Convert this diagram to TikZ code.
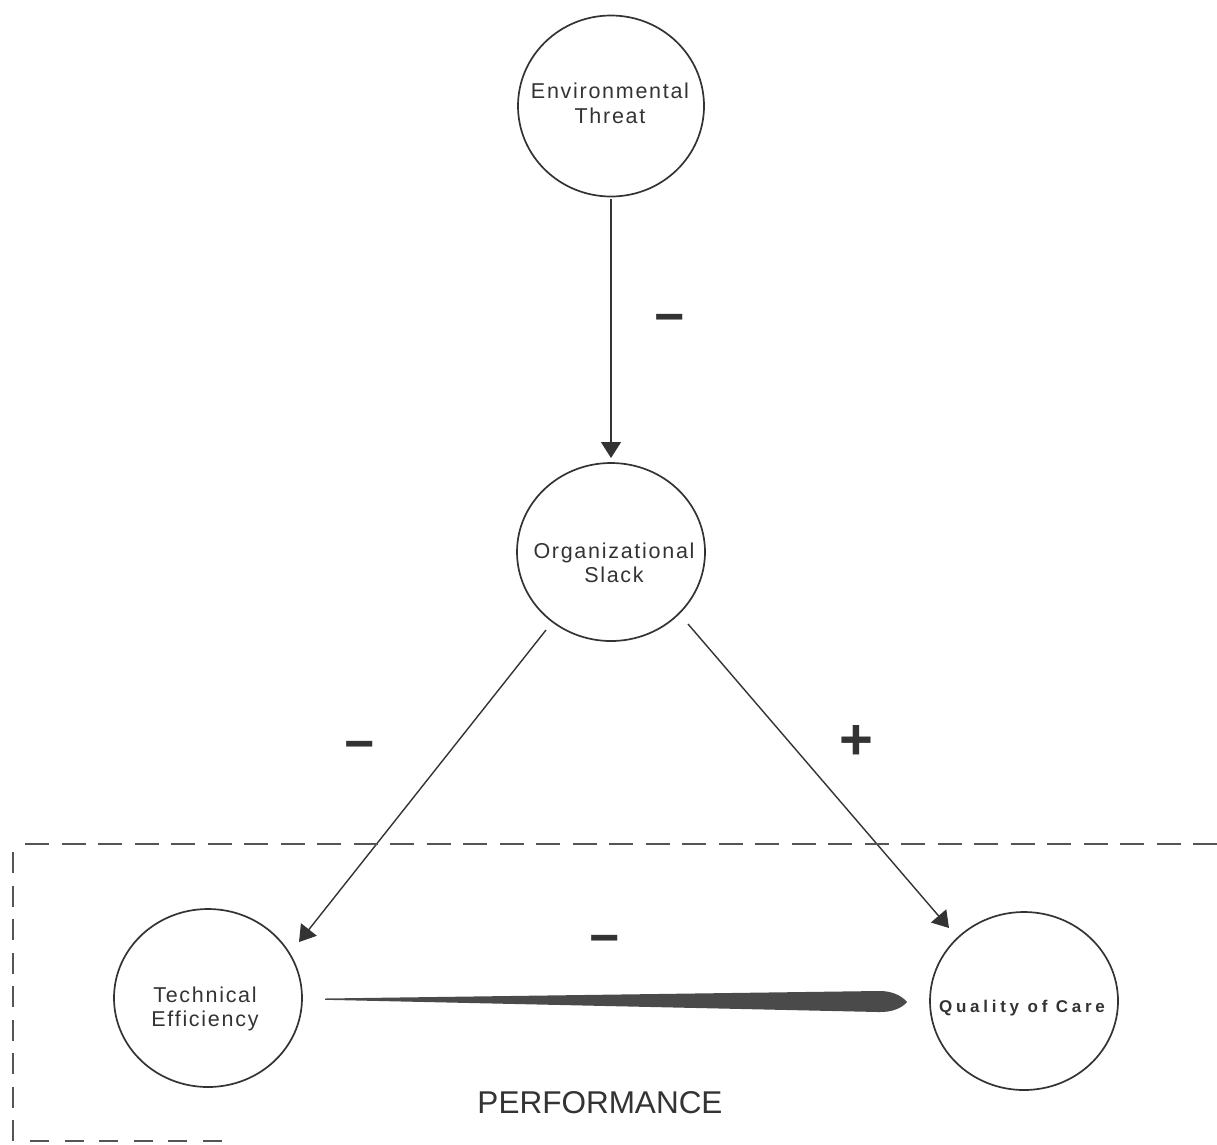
\documentclass[tikz,border=0pt]{standalone}
\usepackage{fontspec}
\setmainfont{Liberation Sans}
\newfontfamily\nodefont[LetterSpace=8]{Liberation Sans}
\newfontfamily\qcfont[LetterSpace=22]{Liberation Sans}
\newfontfamily\signfont{Liberation Sans}
\usetikzlibrary{arrows.meta,shapes.geometric,calc}
\definecolor{ink}{HTML}{333333}
\definecolor{tapercol}{HTML}{4A4A4A}
\definecolor{dashcol}{HTML}{555555}
\begin{document}
\begin{tikzpicture}[x=1pt,y=-1pt,
  blob/.style={draw=ink,line width=1.7pt,ellipse,minimum width=188pt,minimum height=178pt,inner sep=0pt},
  txt/.style={text=ink,align=center,inner sep=0pt,font=\nodefont\fontsize{21.5}{24.5}\selectfont},
  qctxt/.style={text=ink,align=center,inner sep=0pt,font=\qcfont\bfseries\fontsize{17}{19}\selectfont},
  link/.style={draw=ink,line width=1.4pt,-{Triangle[length=16pt,width=20pt]}},
  sign/.style={text=ink,anchor=base,inner sep=0pt,font=\signfont\bfseries\fontsize{52}{52}\selectfont},
  dashline/.style={draw=dashcol,line width=1.6pt}]
\useasboundingbox (0,0) rectangle (1217,1144);

% circles
\node[blob,minimum width=186pt,minimum height=181pt] (ET) at (611,106) {};
\node[blob] (OS) at (611,552) {};
\node[blob] (TE) at (208,998) {};
\node[blob] (QC) at (1024,1001) {};

% texts
\node[txt] (ETt) at (610,103.5) {Environmental\\Threat};
\node[txt] (OSt) at (614,563) {Organizational\\Slack};
\node[txt] (TEt) at (205,1009) {Technical\\Efficiency};
\node[qctxt] (QCt) at (1022,1008) {Quality of Care};

% connectors
\draw[link] ($(ET)+(0,93)$) -- ($(OS)+(0,-94)$);
\draw[link] ($(OS)+(-65,78)$) -- ($(TE)+(91,-56)$);
\draw[link] ($(OS)+(77,72)$) -- ($(QC)+(-75,-73)$);

% tapered connector
\fill[tapercol] ($(TE)+(117,0.5)$) -- ($(QC)+(-146,-10)$)
  .. controls ($(QC)+(-132,-10.5)$) and ($(QC)+(-122,-5)$) .. ($(QC)+(-117,1)$)
  .. controls ($(QC)+(-122,7)$) and ($(QC)+(-132,11.5)$) .. ($(QC)+(-146,11)$)
  -- ($(TE)+(117,1.8)$) -- cycle;

% signs
\node[sign] (s1) at (670,334) {−};
\node[sign] (s2) at (360,761) {−};
\node[sign,font=\signfont\bfseries\fontsize{58}{58}\selectfont] (s3) at (856,759) {+};
\node[sign] (s4) at (605,955) {−};

% performance region
\draw[dashline,dash pattern=on 24pt off 12.5pt] (25,844) -- (1217,844);
\draw[dashline,dash pattern=on 21pt off 12.5pt] (13,852) -- (13,1144);
\draw[dashline,dash pattern=on 19pt off 15.6pt] (30,1141) -- (225,1141);
\node[text=ink,anchor=base,inner sep=0pt,font=\fontsize{31.5}{36}\selectfont] (perf) at (600,1113) {PERFORMANCE};
\end{tikzpicture}
\end{document}
